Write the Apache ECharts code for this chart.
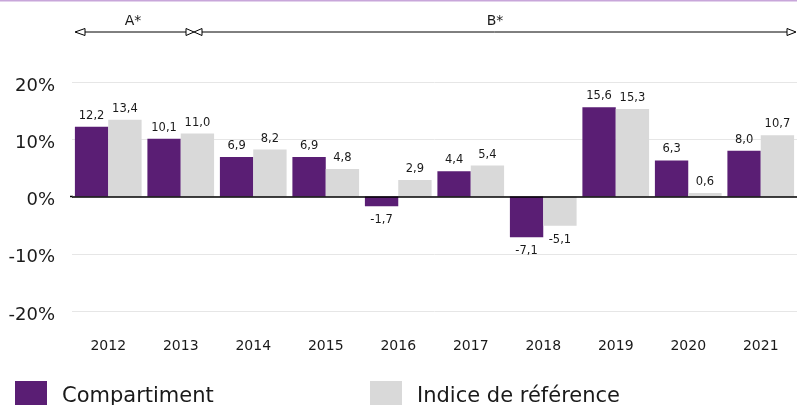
<!DOCTYPE html>
<html>
<head>
<meta charset="utf-8">
<title>Performances annuelles</title>
<script src="https://cdn.jsdelivr.net/npm/echarts@6/dist/echarts.min.js"></script>
<style>
  html, body { margin: 0; padding: 0; background: #fff; }
  #main { width: 797px; height: 405px; }
</style>
</head>
<body>
<div id="main"></div>
<script type="text/javascript">
// données (en %)
var years = ['2012', '2013', '2014', '2015', '2016', '2017', '2018', '2019', '2020', '2021'];
var compartiment = [12.2, 10.1, 6.9, 6.9, -1.7, 4.4, -7.1, 15.6, 6.3, 8.0];
var indice = [13.4, 11.0, 8.2, 4.8, 2.9, 5.4, -5.1, 15.3, 0.6, 10.7];
var yTicks = [-20, -10, 0, 10, 20];
var seriesNames = ['Compartiment', 'Indice de référence'];

var FONT = 'DejaVu Sans';
var PURPLE = '#5a1e74';
var GREY = '#d9d9d9';

function fmt(v) {
    return v.toFixed(1).replace('.', ',');
}

// positif : étiquette au-dessus, négatif : en dessous
function toBarData(arr) {
    return arr.map(function (v) {
        return {
            value: v,
            label: v < 0 ? { position: 'bottom', distance: 8 } : { position: 'top', distance: 5 }
        };
    });
}

var labelStyle = {
    show: true,
    fontFamily: FONT,
    fontSize: 11.5,
    color: '#1a1a1a',
    formatter: function (p) { return fmt(p.value); }
};

var legendBase = {
    top: 381,
    padding: 0,
    icon: 'rect',
    itemWidth: 32,
    itemHeight: 32,
    selectedMode: false,
    textStyle: { fontFamily: FONT, fontSize: 21, color: '#1a1a1a', padding: [0, 0, 0, 10] }
};

var myChart = echarts.init(document.getElementById('main'));

var option = {
    animation: false,
    textStyle: { fontFamily: FONT },
    grid: {
        left: 72,
        right: -5,
        top: 82,
        bottom: 94
    },
    legend: [
        echarts.util.merge({ data: [seriesNames[0]], left: 15 }, legendBase),
        echarts.util.merge({ data: [seriesNames[1]], left: 370 }, legendBase)
    ],
    xAxis: {
        type: 'category',
        data: years,
        position: 'bottom',
        axisLine: { show: false, onZero: false },
        axisTick: { show: false },
        axisLabel: { margin: 28, fontFamily: FONT, fontSize: 14, color: '#1a1a1a' }
    },
    yAxis: {
        type: 'value',
        min: yTicks[0],
        max: yTicks[yTicks.length - 1],
        interval: 10,
        axisLine: { show: false },
        axisTick: { show: false },
        axisLabel: {
            margin: 17, fontFamily: FONT, fontSize: 18, color: '#1a1a1a',
            verticalAlign: 'top', lineHeight: 8, formatter: '{value}%'
        },
        splitLine: { lineStyle: { color: '#e6e6e6', width: 1 } }
    },
    series: [{
        name: seriesNames[0],
        type: 'bar',
        data: toBarData(compartiment),
        itemStyle: { color: PURPLE },
        barGap: '0%',
        barCategoryGap: '8%',
        label: labelStyle,
        markLine: {
            silent: true,
            symbol: 'none',
            label: { show: false },
            lineStyle: { color: '#000', width: 1.5, type: 'solid' },
            data: [{ yAxis: 0 }]
        }
    }, {
        name: seriesNames[1],
        type: 'bar',
        data: toBarData(indice),
        itemStyle: { color: GREY },
        barGap: '0%',
        barCategoryGap: '8%',
        label: labelStyle
    }],
    graphic: [
        // filet violet en haut
        { type: 'rect', shape: { x: 0, y: 0, width: 797, height: 1.5 }, style: { fill: '#c8a6da' }, silent: true },
        // petit bout de l'axe zéro à gauche de la grille
        { type: 'line', shape: { x1: 70, y1: 196.5, x2: 73, y2: 196.5 }, style: { stroke: '#000', lineWidth: 1.5 }, silent: true },
        // flèches des périodes A* / B*
        { type: 'line', shape: { x1: 85, y1: 32, x2: 186, y2: 32 }, style: { stroke: '#000', lineWidth: 1 }, silent: true },
        { type: 'line', shape: { x1: 202, y1: 32, x2: 787, y2: 32 }, style: { stroke: '#000', lineWidth: 1 }, silent: true },
        { type: 'polygon', shape: { points: [[75, 32], [85, 28.5], [85, 35.5]] }, style: { fill: '#fff', stroke: '#000', lineWidth: 1 }, silent: true },
        { type: 'polygon', shape: { points: [[186, 28.5], [186, 35.5], [194, 32]] }, style: { fill: '#fff', stroke: '#000', lineWidth: 1 }, silent: true },
        { type: 'polygon', shape: { points: [[194, 32], [202, 28.5], [202, 35.5]] }, style: { fill: '#fff', stroke: '#000', lineWidth: 1 }, silent: true },
        { type: 'polygon', shape: { points: [[787, 28.5], [787, 35.5], [796, 32]] }, style: { fill: '#fff', stroke: '#000', lineWidth: 1 }, silent: true },
        { type: 'text', x: 133, y: 21, style: { text: 'A*', fontFamily: FONT, fontSize: 14, fill: '#1a1a1a', align: 'center', verticalAlign: 'middle' }, silent: true },
        { type: 'text', x: 495, y: 21, style: { text: 'B*', fontFamily: FONT, fontSize: 14, fill: '#1a1a1a', align: 'center', verticalAlign: 'middle' }, silent: true }
    ]
};

myChart.setOption(option);
</script>
</body>
</html>
